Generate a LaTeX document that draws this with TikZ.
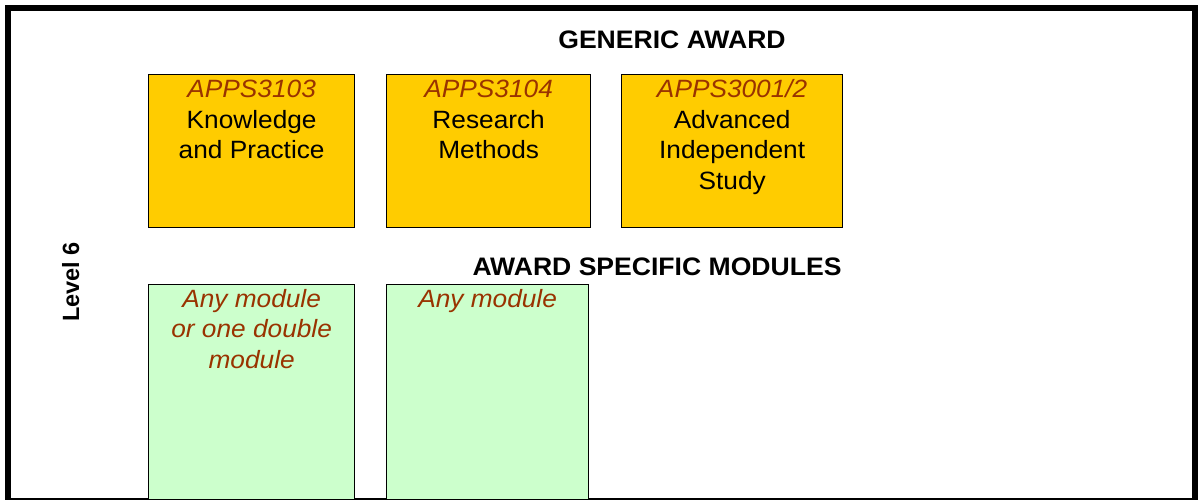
\documentclass[tikz,border=0pt]{standalone}
\usepackage{fontspec}
\setmainfont{Liberation Sans}
\newfontfamily\stretched[FakeStretch=1.05]{Liberation Sans}
\newfontfamily\plainsans{Liberation Sans}
\definecolor{modyellow}{HTML}{FFCC00}
\definecolor{modgreen}{HTML}{CCFFCC}
\definecolor{codebrown}{HTML}{993300}
\begin{document}
\begin{tikzpicture}[x=1pt,y=-1pt,
  modbox/.style={draw=black, line width=1.3pt, inner sep=0pt, anchor=north west},
  genbox/.style={modbox, fill=modyellow, minimum width=206, minimum height=153},
  specbox/.style={modbox, fill=modgreen, minimum height=215.5},
  modtext/.style={font=\stretched\fontsize{25}{30.5}\selectfont, align=center, inner sep=0pt, anchor=north},
  heading/.style={font=\stretched\fontsize{25.3}{28}\selectfont\bfseries, inner sep=0pt, anchor=base}]
\useasboundingbox (0,0) rectangle (1198,500);
% frame
\draw[line width=6pt] (8,506) -- (8,8) -- (1195,8) -- (1195,506);
\draw[line width=1.3pt] (8,499) -- (1195,499);
% headings
\node[heading] (gen) at (672,49) {GENERIC AWARD};
\node[heading] (spec) at (657,275) {AWARD SPECIFIC MODULES};
\node[font=\plainsans\fontsize{23.5}{28}\selectfont\bfseries, inner sep=0pt, anchor=base, rotate=90] (lvl) at (79,282) {Level 6};
% generic modules
\node[genbox] (k) at (148,74) {};
\node[genbox, minimum width=204] (r) at (386,74) {};
\node[genbox, minimum width=221] (a) at (621,74) {};
\node[modtext] (kt) at ([yshift=-2pt]k.north) {\strut{\itshape\color{codebrown}APPS3103}\\Knowledge\\and Practice};
\node[modtext] (rt) at ([yshift=-2pt]r.north) {\strut{\itshape\color{codebrown}APPS3104}\\Research\\Methods};
\node[modtext] (at) at ([yshift=-2pt]a.north) {\strut{\itshape\color{codebrown}APPS3001/2}\\Advanced\\Independent\\Study};
% award specific modules
\node[specbox, minimum width=206] (s1) at (148,283.5) {};
\node[specbox, minimum width=202] (s2) at (386,283.5) {};
\node[modtext, font=\stretched\fontsize{25}{30.5}\selectfont\itshape, text=codebrown] (s1t) at ([yshift=-2pt]s1.north) {\strut Any module\\or one double\\module};
\node[modtext, font=\stretched\fontsize{25}{30.5}\selectfont\itshape, text=codebrown] (s2t) at ([yshift=-2pt]s2.north) {\strut Any module};
\end{tikzpicture}
\end{document}
